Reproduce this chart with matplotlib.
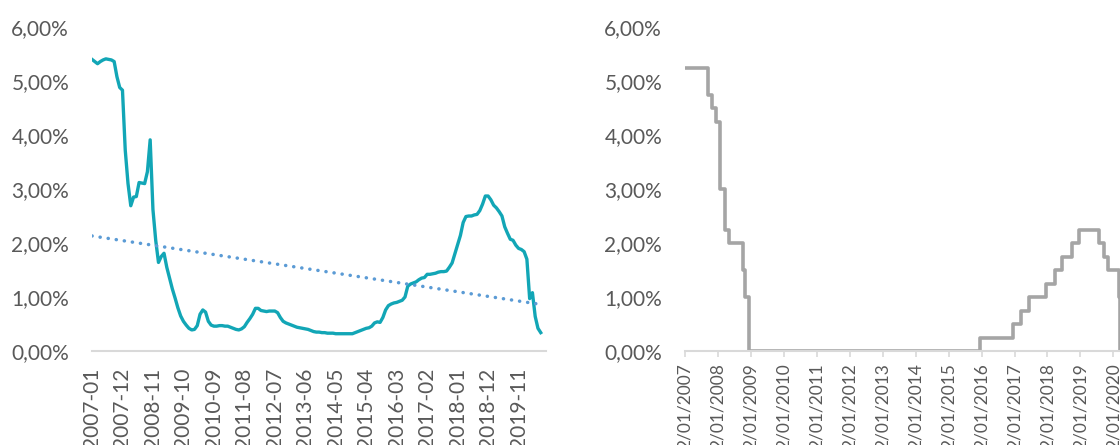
import numpy as np
import pandas as pd
import matplotlib
matplotlib.use("Agg")
import matplotlib.pyplot as plt
import matplotlib.dates as mdates
from matplotlib.ticker import FuncFormatter, FixedLocator
import datetime as dt

# ---------------- data ----------------
# Left: monthly rate (%) from 2007-01
rate_values = [
    5.40, 5.36, 5.32, 5.36, 5.39, 5.41, 5.40, 5.39, 5.36, 5.08,
    4.88, 4.83, 3.72, 3.10, 2.69, 2.85, 2.86, 3.12, 3.11, 3.10,
    3.32, 3.91, 2.62, 2.05, 1.64, 1.75, 1.81, 1.55, 1.35, 1.15,
    0.98, 0.80, 0.65, 0.55, 0.48, 0.42, 0.39, 0.40, 0.47, 0.68,
    0.76, 0.72, 0.55, 0.48, 0.46, 0.46, 0.47, 0.47, 0.46, 0.46,
    0.44, 0.42, 0.40, 0.39, 0.41, 0.45, 0.53, 0.60, 0.68, 0.79,
    0.79, 0.75, 0.74, 0.73, 0.74, 0.74, 0.74, 0.71, 0.62, 0.55,
    0.52, 0.50, 0.48, 0.46, 0.44, 0.43, 0.42, 0.41, 0.40, 0.38,
    0.36, 0.35, 0.35, 0.34, 0.34, 0.33, 0.33, 0.33, 0.32, 0.32,
    0.32, 0.32, 0.32, 0.32, 0.32, 0.34, 0.36, 0.38, 0.40, 0.42,
    0.43, 0.46, 0.52, 0.54, 0.53, 0.62, 0.76, 0.84, 0.87, 0.89,
    0.90, 0.92, 0.94, 1.00, 1.20, 1.24, 1.26, 1.28, 1.32, 1.35,
    1.36, 1.42, 1.42, 1.43, 1.44, 1.46, 1.47, 1.47, 1.48, 1.55,
    1.63, 1.80, 1.97, 2.14, 2.38, 2.49, 2.50, 2.50, 2.52, 2.53,
    2.60, 2.72, 2.87, 2.87, 2.80, 2.70, 2.65, 2.58, 2.50, 2.30,
    2.18, 2.07, 2.05, 1.96, 1.90, 1.88, 1.84, 1.70, 0.97, 1.08,
    0.64, 0.42, 0.34,
]
categories = pd.date_range("2007-01-01", periods=len(rate_values), freq="MS").strftime("%Y-%m").tolist()
label_every = 11

# Right: policy rate step changes (%)
policy_dates = [
    "2007-01-02", "2007-09-18", "2007-10-31", "2007-12-11", "2008-01-22",
    "2008-01-30", "2008-03-18", "2008-04-30", "2008-10-08", "2008-10-29",
    "2008-12-16", "2015-12-17", "2016-12-15", "2017-03-16", "2017-06-15",
    "2017-12-14", "2018-03-22", "2018-06-14", "2018-09-27", "2018-12-20",
    "2019-08-01", "2019-09-19", "2019-10-31", "2020-03-04", "2020-03-16",
    "2020-06-30",
]
policy_values = [
    5.25, 4.75, 4.50, 4.25, 3.50,
    3.00, 2.25, 2.00, 1.50, 1.00,
    0.00, 0.25, 0.50, 0.75, 1.00,
    1.25, 1.50, 1.75, 2.00, 2.25,
    2.00, 1.75, 1.50, 1.00, 0.00,
    0.00,
]
year_ticks = list(range(2007, 2021))
y_ticks = [0, 1, 2, 3, 4, 5, 6]

# ---------------- style ----------------
plt.rcParams['font.family'] = ['Lato', 'DejaVu Sans']
TXT = '#595959'
AXC = '#d9d9d9'
FS = 15

W, H = 1120, 445
fig = plt.figure(figsize=(W / 100, H / 100), dpi=100)

def pct(v, _):
    return f"{v:.2f}%".replace('.', ',')

y0_px, y6_px = 351, 27
bottom = (H - y0_px) / H
height = (y0_px - y6_px) / H

# ---------------- left chart ----------------
ax1 = fig.add_axes([92 / W, bottom, 454 / W, height])
x = np.arange(len(rate_values))
ax1.plot(x, rate_values, color='#12A6B6', lw=2.4, solid_joinstyle='round')
coef = np.polyfit(x, rate_values, 1)
trend = np.polyval(coef, x)
ax1.plot(x, trend, color='#5B9BD5', lw=2.5, linestyle=(0, (0.05, 2.3)),
         dash_capstyle='round')
ax1.set_xlim(0, 163.9)
ax1.set_ylim(0, 6)
ax1.set_yticks(y_ticks)
ax1.yaxis.set_major_formatter(FuncFormatter(pct))
tick_pos = x[::label_every]
ax1.set_xticks(tick_pos)
ax1.set_xticklabels([categories[i] for i in tick_pos], rotation=90)
for s in ['top', 'right', 'left']:
    ax1.spines[s].set_visible(False)
ax1.spines['bottom'].set_color(AXC)
ax1.spines['bottom'].set_linewidth(1.5)
ax1.tick_params(axis='y', length=0, pad=16.5, labelsize=FS, labelcolor=TXT)
ax1.tick_params(axis='x', length=0, pad=12, labelsize=FS, labelcolor=TXT)

# ---------------- right chart ----------------
d_start = mdates.date2num(dt.date(2007, 1, 2))
d_end = mdates.date2num(dt.date(2020, 6, 30))
px_per_day = (1113.3 - 685) / (mdates.date2num(dt.date(2020, 1, 2)) - d_start)
width_px = (d_end - d_start) * px_per_day
ax2 = fig.add_axes([685 / W, bottom, width_px / W, height])
pd_dates = mdates.date2num(pd.to_datetime(policy_dates).to_pydatetime())
ax2.step(pd_dates, policy_values, where='post', color='#A5A5A5', lw=2.6)
ax2.set_xlim(d_start, d_end)
ax2.set_ylim(0, 6)
ax2.set_yticks(y_ticks)
ax2.yaxis.set_major_formatter(FuncFormatter(pct))
xt = [mdates.date2num(dt.date(y, 1, 2)) for y in year_ticks]
ax2.xaxis.set_major_locator(FixedLocator(xt))
ax2.set_xticklabels([f"2/01/{y}" for y in year_ticks], rotation=90)
for s in ['top', 'right', 'left']:
    ax2.spines[s].set_visible(False)
ax2.spines['bottom'].set_color(AXC)
ax2.spines['bottom'].set_linewidth(1.5)
ax2.tick_params(axis='y', length=0, pad=16.5, labelsize=FS, labelcolor=TXT)
ax2.tick_params(axis='x', length=4, width=1.2, color=AXC, pad=5,
                labelsize=12.5, labelcolor=TXT)

fig.savefig('out.png', dpi=100)
